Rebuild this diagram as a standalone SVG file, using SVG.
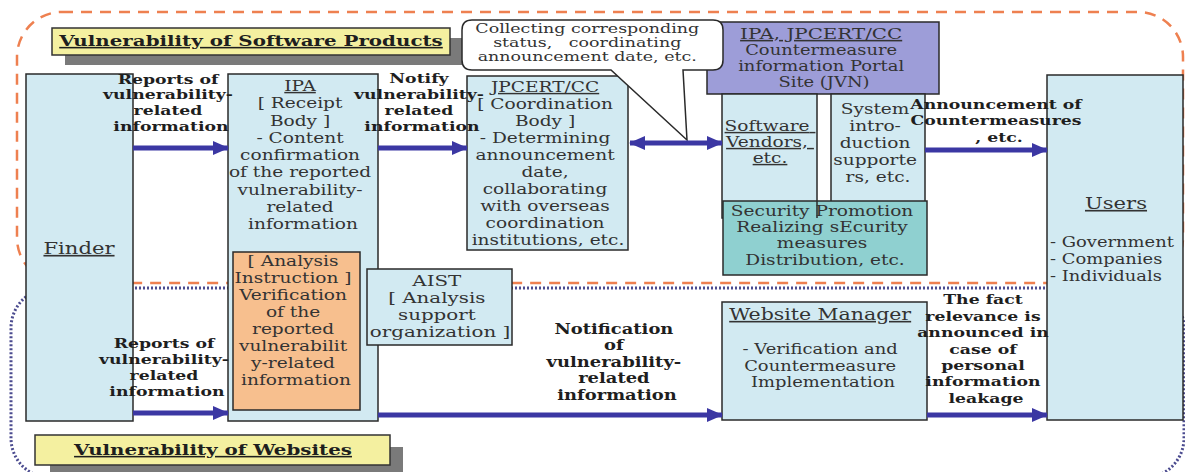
<svg xmlns="http://www.w3.org/2000/svg" width="1185" height="472" viewBox="0 0 1185 472">
<style>
.box{stroke:#2a2a2a;stroke-width:1.5}
.lb{fill:#d2eaf2}
.t{font-family:"DejaVu Serif",serif;fill:#333;text-anchor:middle}
.s{text-anchor:start}
.b{font-weight:bold;fill:#1e1e1e}
.u{text-decoration:underline}
.arr{stroke:#3b37a3;stroke-width:5;fill:none}
.hd{fill:#f4f0a0;stroke:#333;stroke-width:1.5}
.sh{fill:#7a7a7a}
</style>
<defs>
<marker id="ah" viewBox="0 0 16 16" refX="15" refY="8" markerWidth="16" markerHeight="16" markerUnits="userSpaceOnUse" orient="auto-start-reverse">
<path d="M0,1 L16,8 L0,15 Z" fill="#3b37a3"/>
</marker>
</defs>
<rect width="1185" height="472" fill="#ffffff"/>
<g id="containers">
<rect x="17" y="12" width="1166" height="271" rx="45" fill="none" stroke="#ee8050" stroke-width="2.5" stroke-dasharray="11 8"/>
<rect x="11" y="288" width="1173" height="190" rx="40" fill="none" stroke="#4b4b8f" stroke-width="3" stroke-dasharray="2 2"/>
</g>
<g id="heading-software">
<rect class="sh" x="65" y="38" width="398" height="27"/>
<rect class="hd" x="52" y="28" width="398" height="27"/>
<g transform="translate(251,0) scale(1.28,1)"><text class="t b u" font-size="15.5" y="46">Vulnerability of Software Products</text></g>
</g>
<g id="heading-websites">
<rect class="sh" x="50" y="447" width="353" height="30"/>
<rect class="hd" x="35" y="435" width="355" height="30"/>
<g transform="translate(213,0) scale(1.28,1)"><text class="t b u" font-size="15.5" y="455">Vulnerability of Websites</text></g>
</g>
<g id="finder">
<rect class="box lb" x="26" y="74" width="107" height="347"/>
<g transform="translate(79,0) scale(1.28,1)"><text class="t u" font-size="16.5" y="254">Finder</text></g>
</g>
<g id="ipa">
<rect class="box lb" x="228" y="74" width="150" height="347"/>
<g transform="translate(303,0) scale(1.28,1)"><text class="t" font-size="14.5">
<tspan class="u" x="0" y="91">IPA</tspan>
<tspan x="0" y="108.3">[ Receipt</tspan>
<tspan x="0" y="125.6">Body ]</tspan>
<tspan x="0" y="142.9">- Content</tspan>
<tspan x="0" y="160.2">confirmation</tspan>
<tspan x="0" y="177.5">of the reported</tspan>
<tspan x="0" y="194.8">vulnerability-</tspan>
<tspan x="0" y="212.1">related</tspan>
<tspan x="0" y="229.4">information</tspan>
</text></g>
</g>
<g id="analysis-instruction">
<rect class="box" fill="#f7bf8e" x="233" y="252" width="127" height="158"/>
<g transform="translate(296,0) scale(1.28,1)"><text class="t" font-size="14.5">
<tspan x="0" y="266">[ Analysis</tspan>
<tspan x="0" y="283">Instruction ]</tspan>
<tspan x="0" y="300">Verification</tspan>
<tspan x="0" y="317">of the</tspan>
<tspan x="0" y="334">reported</tspan>
<tspan x="0" y="351">vulnerabilit</tspan>
<tspan x="0" y="368">y-related</tspan>
<tspan x="0" y="385">information</tspan>
</text></g>
</g>
<g id="aist">
<rect class="box lb" x="367" y="269" width="145" height="76"/>
<g transform="translate(440,0) scale(1.28,1)"><text class="t" font-size="15.5">
<tspan x="0" y="286">AIST</tspan>
<tspan x="0" y="303">[ Analysis</tspan>
<tspan x="0" y="320">support</tspan>
<tspan x="0" y="337">organization ]</tspan>
</text></g>
</g>
<g id="jpcert">
<rect class="box lb" x="467" y="76" width="161" height="174"/>
<g transform="translate(548,0) scale(1.28,1)"><text class="t" font-size="14.5">
<tspan class="u" x="0" y="92">JPCERT/CC</tspan>
<tspan x="0" y="109">[ Coordination</tspan>
<tspan x="0" y="126">Body ]</tspan>
<tspan x="0" y="143">- Determining</tspan>
<tspan x="0" y="160">announcement</tspan>
<tspan x="0" y="177">date,</tspan>
<tspan x="0" y="194">collaborating</tspan>
<tspan x="0" y="211">with overseas</tspan>
<tspan x="0" y="228">coordination</tspan>
<tspan x="0" y="245">institutions, etc.</tspan>
</text></g>
</g>
<g id="jvn-portal">
<rect class="box" fill="#9d9dd8" x="707" y="22" width="232" height="72"/>
<g transform="translate(824,0) scale(1.28,1)"><text class="t" font-size="14">
<tspan class="u" x="0" y="39" font-size="15.5">IPA, JPCERT/CC</tspan>
<tspan x="0" y="55">Countermeasure</tspan>
<tspan x="0" y="71">information Portal</tspan>
<tspan x="0" y="87">Site (JVN)</tspan>
</text></g>
</g>
<g id="callout">
<path class="box" fill="#ffffff" d="M472,20 H713 Q723,20 723,30 V60 Q723,70 713,70 H683 L687,140 L611,70 H472 Q462,70 462,60 V30 Q462,20 472,20 Z"/>
<g transform="translate(590,0) scale(1.43,1)"><text class="t" font-size="12.2" style="white-space:pre">
<tspan x="0" y="33">Collecting corresponding</tspan>
<tspan x="0" y="47">status,   coordinating</tspan>
<tspan x="0" y="61">announcement date, etc.</tspan>
</text></g>
</g>
<g id="software-vendors">
<rect class="box lb" x="722" y="94" width="95" height="124"/>
<g transform="translate(770,0) scale(1.28,1)"><text class="t u" font-size="14.5">
<tspan x="0" y="131">Software</tspan>
<tspan x="0" y="147">Vendors,</tspan>
<tspan x="0" y="163">etc.</tspan>
</text></g>
</g>
<g id="system-supporters">
<rect class="box lb" x="831" y="94" width="94" height="124"/>
<g transform="translate(878,0) scale(1.28,1)"><text class="t" font-size="14.5">
<tspan x="0" y="114">System</tspan>
<tspan x="0" y="131">intro-</tspan>
<tspan x="0" y="148">duction</tspan>
<tspan x="0" y="165">supporte</tspan>
<tspan x="0" y="182">rs, etc.</tspan>
</text></g>
</g>
<g id="security-promotion">
<rect class="box" fill="#8fd0d0" x="723" y="201" width="204" height="74"/>
<line x1="817" y1="201" x2="817" y2="218" stroke="#2a2a2a" stroke-width="1.5"/>
<g transform="translate(825,0) scale(1.28,1)"><text class="t" font-size="14.5">
<tspan x="0" y="216">Security Promotion</tspan>
<tspan x="0" y="232">Realizing sEcurity</tspan>
<tspan x="0" y="248">measures</tspan>
<tspan x="0" y="265">Distribution, etc.</tspan>
</text></g>
</g>
<g id="users">
<rect class="box lb" x="1047" y="75" width="136" height="345"/>
<g transform="translate(1116,0) scale(1.28,1)"><text class="t u" font-size="16.5" y="209">Users</text></g>
<g transform="translate(1050,0) scale(1.28,1)"><text class="t s" font-size="14">
<tspan x="0" y="247">- Government</tspan>
<tspan x="0" y="264">- Companies</tspan>
<tspan x="0" y="281">- Individuals</tspan>
</text></g>
</g>
<g id="website-manager">
<rect class="box lb" x="722" y="302" width="205" height="118"/>
<g transform="translate(823,0) scale(1.28,1)"><text class="t" font-size="14">
<tspan class="u" x="0" y="320" font-size="16">Website Manager</tspan>
<tspan x="0" y="354">- Verification and</tspan>
<tspan x="0" y="371">Countermeasure</tspan>
<tspan x="0" y="387">Implementation</tspan>
</text></g>
</g>
<g id="connectors">
<path id="c1" class="arr" d="M133,148 H228" marker-end="url(#ah)"/>
<path id="c2" class="arr" d="M378,148 H467" marker-end="url(#ah)"/>
<path id="c3" class="arr" d="M630,143 H722" marker-start="url(#ah)" marker-end="url(#ah)"/>
<path id="c4" class="arr" d="M925,150 H1047" marker-end="url(#ah)"/>
<path id="c5" class="arr" d="M133,413 H228" marker-end="url(#ah)"/>
<path id="c6" class="arr" d="M378,415 H722" marker-end="url(#ah)"/>
<path id="c7" class="arr" d="M927,415 H1047" marker-end="url(#ah)"/>
</g>
<g id="connector-labels">
<g transform="translate(171,0) scale(1.28,1)"><text class="t b" font-size="13.5">
<tspan x="0" y="84">Reports of</tspan>
<tspan x="0" y="99.5">vulnerability-</tspan>
<tspan x="0" y="115">related</tspan>
<tspan x="0" y="131">information</tspan>
</text></g>
<g transform="translate(422,0) scale(1.28,1)"><text class="t b" font-size="13.5">
<tspan x="0" y="83">Notify</tspan>
<tspan x="0" y="99">vulnerability-</tspan>
<tspan x="0" y="115">related</tspan>
<tspan x="0" y="131">information</tspan>
</text></g>
<g transform="translate(999,0) scale(1.28,1)"><text class="t b" font-size="13.5">
<tspan x="0" y="109">Announcement of</tspan>
<tspan x="0" y="125">Countermeasures</tspan>
<tspan x="0" y="142">, etc.</tspan>
</text></g>
<g transform="translate(167,0) scale(1.28,1)"><text class="t b" font-size="13.5">
<tspan x="0" y="348">Reports of</tspan>
<tspan x="0" y="364">vulnerability-</tspan>
<tspan x="0" y="380">related</tspan>
<tspan x="0" y="396">information</tspan>
</text></g>
<g transform="translate(617,0) scale(1.28,1)"><text class="t b" font-size="14">
<tspan x="0" y="334">Notification</tspan>
<tspan x="0" y="350.5">of</tspan>
<tspan x="0" y="367">vulnerability-</tspan>
<tspan x="0" y="383.5">related</tspan>
<tspan x="0" y="400">information</tspan>
</text></g>
<g transform="translate(986,0) scale(1.28,1)"><text class="t b" font-size="13.5">
<tspan x="0" y="304">The fact</tspan>
<tspan x="0" y="321">relevance is</tspan>
<tspan x="0" y="337">announced in</tspan>
<tspan x="0" y="354">case of</tspan>
<tspan x="0" y="370">personal</tspan>
<tspan x="0" y="386">information</tspan>
<tspan x="0" y="403">leakage</tspan>
</text></g>
</g>
</svg>
